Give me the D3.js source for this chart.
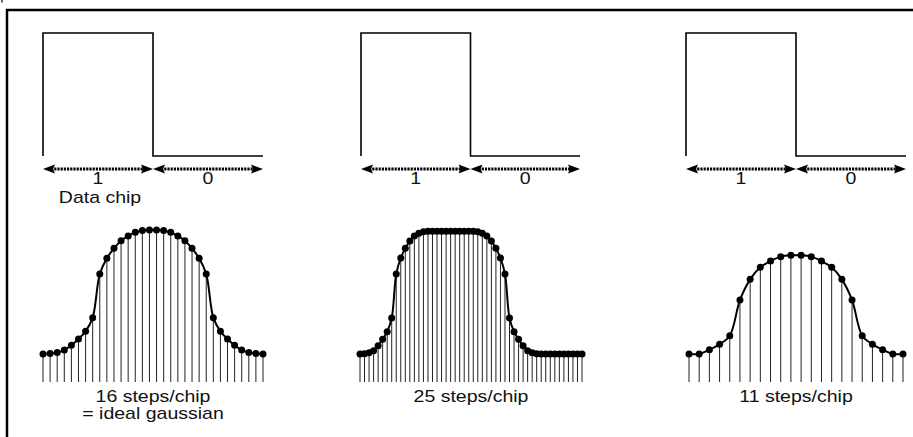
<!DOCTYPE html>
<html>
<head>
<meta charset="utf-8">
<script src="https://cdn.jsdelivr.net/npm/d3@7"></script>
<style>
  body { margin: 0; background: #fff; }
  text { font-family: "Liberation Sans", Arial, sans-serif; font-size: 16px; fill: #111; }
</style>
</head>
<body>
<script>
// data
var bitLabels = ["1", "0"];
var pulseLevels = [1, 0];
var chipLabel = "Data chip";
var stepLabels = ["16 steps/chip", "25 steps/chip", "11 steps/chip"];
var noteLabels = ["= ideal gaussian", "", ""];

var samples16 = [0, 0.005, 0.013, 0.032, 0.07, 0.121, 0.183, 0.293, 0.645, 0.772, 0.852, 0.914, 0.952, 0.981, 0.995, 1,
                 1, 0.995, 0.981, 0.952, 0.914, 0.852, 0.772, 0.645, 0.293, 0.183, 0.121, 0.07, 0.032, 0.013, 0.005, 0];
var samples25 = [0, 0.003, 0.011, 0.027, 0.067, 0.118, 0.18, 0.29, 0.645, 0.774, 0.852, 0.911, 0.952, 0.973, 0.985,
                 0.99, 0.99, 0.99, 0.99, 0.99, 0.99, 0.99, 0.99, 0.99, 0.99, 0.99,
                 0.985, 0.973, 0.952, 0.911, 0.852, 0.774, 0.645, 0.29, 0.18, 0.118, 0.067, 0.027, 0.011, 0.003,
                 0, 0, 0, 0, 0, 0, 0, 0, 0, 0];
var samples11 = [0, 0, 0.035, 0.078, 0.147, 0.435, 0.602, 0.699, 0.75, 0.785, 0.796,
                 0.796, 0.785, 0.75, 0.699, 0.602, 0.435, 0.147, 0.078, 0.035, 0, 0];
var allSamples = [samples16, samples25, samples11];

// layout
var W = 913, H = 437;
var pulseX = [[43, 263], [361, 580], [686, 906]];
var sampleX = [[43, 263], [360, 582], [689, 903]];
var stemBottom = 382;
var arrowY = 169;
var txtScale = 1.22; // text in the source is stretched horizontally

var svg = d3.select("body").append("svg").attr("width", W).attr("height", H);

// frame
svg.append("path").attr("d", "M7," + H + "V10H" + W)
  .attr("fill", "none").attr("stroke", "#000").attr("stroke-width", 2.5);
svg.append("line").attr("x1", 2).attr("y1", 0).attr("x2", 2).attr("y2", 2.5)
  .attr("stroke", "#000").attr("stroke-width", 1.2);

var yPulse = d3.scaleLinear().domain([0, 1]).range([156, 33]);
var yWave = d3.scaleLinear().domain([0, 1]).range([354, 230]);

function label(x, y, s) {
  svg.append("text")
    .attr("transform", "translate(" + x + "," + y + ") scale(" + txtScale + ",1)")
    .attr("text-anchor", "middle")
    .text(s);
}

function arrowHead(x, y, dir) {
  // dir = -1 points left, +1 points right
  var len = 12, half = 4.5;
  svg.append("path")
    .attr("d", "M" + x + "," + y + "L" + (x - dir * len) + "," + (y - half) + "L" + (x - dir * (len - 2)) + "," + y + "L" + (x - dir * len) + "," + (y + half) + "Z")
    .attr("fill", "#000");
}

for (var k = 0; k < 3; k++) {
  var xc = d3.scaleLinear().domain([0, pulseLevels.length]).range(pulseX[k]);

  // square pulse
  var pts = [[0, 0]];
  pulseLevels.forEach(function(l, i) { pts.push([i, l]); pts.push([i + 1, l]); });
  svg.append("path")
    .attr("d", d3.line().x(function(d) { return xc(d[0]); }).y(function(d) { return yPulse(d[1]); })(pts))
    .attr("fill", "none").attr("stroke", "#000").attr("stroke-width", 1.6);

  // double arrows + bit labels
  bitLabels.forEach(function(b, i) {
    var xa = xc(i), xb = xc(i + 1);
    svg.append("line")
      .attr("x1", xa + 8).attr("y1", arrowY).attr("x2", xb - 8).attr("y2", arrowY)
      .attr("stroke", "#000").attr("stroke-width", 3).attr("stroke-dasharray", "2.2,1");
    arrowHead(xa, arrowY, -1);
    arrowHead(xb, arrowY, 1);
    label(xc(i + 0.5), 184, b);
  });
  if (k == 0) label(xc(0.5) + 2, 203, chipLabel);

  // sampled gaussian waveform
  var data = allSamples[k];
  var xs = d3.scaleLinear().domain([0, data.length - 1]).range(sampleX[k]);
  var g = svg.append("g");
  g.selectAll("line.stem").data(data).enter().append("line")
    .attr("class", "stem")
    .attr("x1", function(d, i) { return xs(i); }).attr("x2", function(d, i) { return xs(i); })
    .attr("y1", function(d) { return yWave(d); }).attr("y2", stemBottom)
    .attr("stroke", "#222").attr("stroke-width", 1);
  g.append("path")
    .attr("d", d3.line().x(function(d, i) { return xs(i); }).y(function(d) { return yWave(d); }).curve(d3.curveCatmullRom.alpha(0.5))(data))
    .attr("fill", "none").attr("stroke", "#000").attr("stroke-width", 2);
  g.selectAll("circle").data(data).enter().append("circle")
    .attr("cx", function(d, i) { return xs(i); })
    .attr("cy", function(d) { return yWave(d); })
    .attr("r", 3.5).attr("fill", "#000");

  var mid = (sampleX[k][0] + sampleX[k][1]) / 2;
  label(mid, 402, stepLabels[k]);
  if (noteLabels[k]) label(mid, 419, noteLabels[k]);
}
</script>
</body>
</html>
